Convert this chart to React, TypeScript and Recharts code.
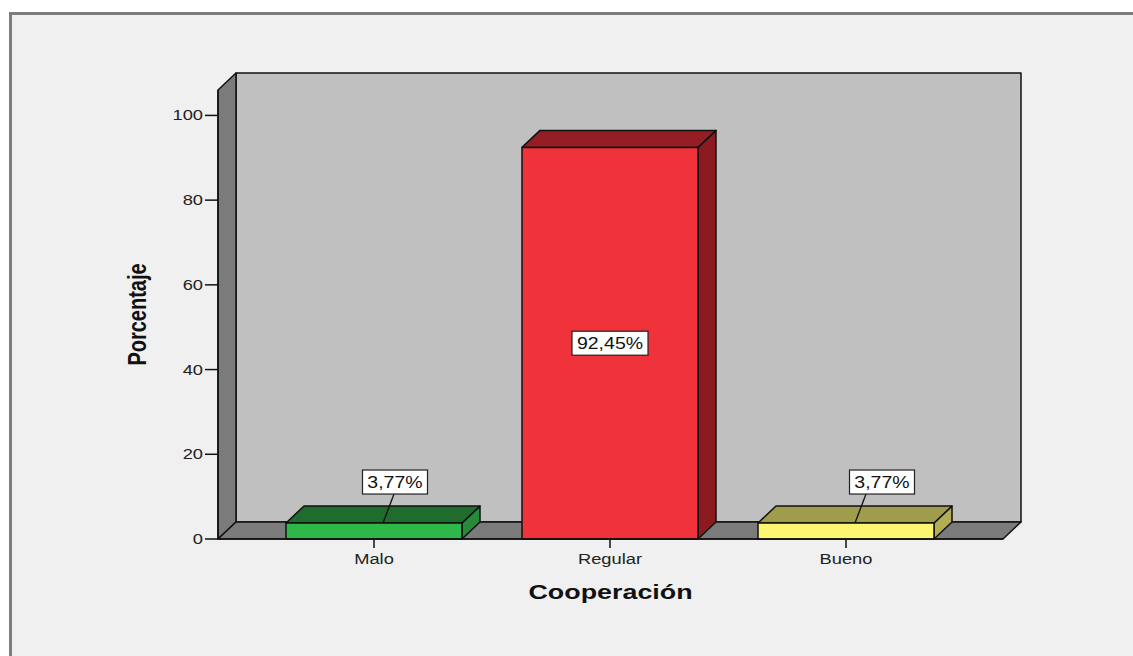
import React from 'react';
import { BarChart, Bar, XAxis, YAxis, LabelList, usePlotArea } from 'recharts';

const categories = ['Malo', 'Regular', 'Bueno'];
const percentages = [3.77, 92.45, 3.77];
const yTicks = [0, 20, 40, 60, 80, 100];

const data = categories.map((name, i) => ({ name, pct: percentages[i] }));

// face colours for each bar: front, top, right side
const barColors = [
  { front: '#2eb84a', top: '#1f6c2e', side: '#27893a' },
  { front: '#f0323a', top: '#951e24', side: '#8c1b21' },
  { front: '#fbf570', top: '#9f9c4b', side: '#b2ae56' },
];

const FONT = '"Liberation Sans", Arial, sans-serif';
const SX = 1.22; // horizontal text stretch
const DX = 18; // depth offset of the 3D box
const DY = 17;
const labelNudge = [21, 0, 36];

const fmt = (v: number) => v.toFixed(2).replace('.', ',') + '%';

// back wall, left wall and floor behind the bars
const Walls = () => {
  const area = usePlotArea();
  if (!area) return null;
  const { x, y, width, height } = area;
  const b = y + height;
  const r = x + width;
  return (
    <g stroke="#111" strokeWidth={1.5} strokeLinejoin="round">
      <rect x={x + DX} y={y - DY} width={width} height={height} fill="#c0c0c0" />
      <polygon
        points={`${x},${y} ${x + DX},${y - DY} ${x + DX},${b - DY} ${x},${b}`}
        fill="#7b7b7b"
      />
      <polygon
        points={`${x},${b} ${x + DX},${b - DY} ${r + DX},${b - DY} ${r},${b}`}
        fill="#7b7b7b"
      />
    </g>
  );
};

const Box3D = (props: any) => {
  const { x, y, width: w, height: h, index } = props;
  const c = barColors[index];
  return (
    <g stroke="#111" strokeWidth={1.5} strokeLinejoin="round">
      <polygon
        points={`${x + w},${y} ${x + w + DX},${y - DY} ${x + w + DX},${y + h - DY} ${x + w},${y + h}`}
        fill={c.side}
      />
      <polygon
        points={`${x},${y} ${x + DX},${y - DY} ${x + w + DX},${y - DY} ${x + w},${y}`}
        fill={c.top}
      />
      <rect x={x} y={y} width={w} height={h} fill={c.front} />
    </g>
  );
};

const ValueLabel = (props: any) => {
  const vb = props.viewBox ?? props;
  const { x, y, width: w, height: h } = vb;
  const { value, index } = props;
  const text = fmt(value);
  const bw = text.length * 11 + 10;
  const bh = 24;
  const fc = x + w / 2;
  let cx: number;
  let top: number;
  let leader = null;
  if (h > 60) {
    cx = fc;
    top = y + h / 2 - bh / 2;
  } else {
    cx = fc + labelNudge[index];
    top = y - 53;
    leader = (
      <line x1={fc + 20} y1={top + bh} x2={fc + 9} y2={y} stroke="#111" strokeWidth={1.3} />
    );
  }
  return (
    <g>
      {leader}
      <rect x={cx - bw / 2} y={top} width={bw} height={bh} fill="#fff" stroke="#222" strokeWidth={1.2} />
      <text
        transform={`translate(${cx},${top + bh / 2 + 6}) scale(${SX},1)`}
        textAnchor="middle"
        fontFamily={FONT}
        fontSize={16}
        fill="#111"
      >
        {text}
      </text>
    </g>
  );
};

const YTick = (props: any) => {
  const { x, y, payload } = props;
  return (
    <text
      transform={`translate(${x},${y + 5}) scale(${SX},1)`}
      textAnchor="end"
      fontFamily={FONT}
      fontSize={15}
      fill="#222"
    >
      {payload.value}
    </text>
  );
};

const XTick = (props: any) => {
  const { x, y, payload } = props;
  return (
    <text
      transform={`translate(${x},${y + 11}) scale(${SX},1)`}
      textAnchor="middle"
      fontFamily={FONT}
      fontSize={15}
      fill="#222"
    >
      {payload.value}
    </text>
  );
};

const XTitle = (props: any) => {
  const { x, width } = props.viewBox;
  return (
    <text
      transform={`translate(${x + width / 2},599) scale(1.28,1)`}
      textAnchor="middle"
      fontFamily={FONT}
      fontWeight="bold"
      fontSize={21}
      fill="#111"
    >
      Cooperación
    </text>
  );
};

const YTitle = (props: any) => {
  const { y, height } = props.viewBox;
  return (
    <text
      transform={`translate(146,${y + height / 2}) scale(1.25,1) rotate(-90)`}
      textAnchor="middle"
      fontFamily={FONT}
      fontWeight="bold"
      fontSize={20}
      fill="#111"
    >
      Porcentaje
    </text>
  );
};

export default function App() {
  return (
    <div
      style={{
        position: 'fixed',
        left: 0,
        top: 0,
        width: 1133,
        height: 656,
        background: '#fff',
        overflow: 'hidden',
      }}
    >
      <div
        style={{
          position: 'absolute',
          left: 9,
          top: 12,
          width: 1200,
          height: 700,
          background: '#f0f0f0',
          borderTop: '3px solid #7d7d7d',
          borderLeft: '3px solid #7d7d7d',
        }}
      />
      <div style={{ position: 'absolute', left: 0, top: 0 }}>
        <BarChart
          width={1133}
          height={656}
          data={data}
          margin={{ top: 90, right: 130, bottom: 0, left: 0 }}
        >
          <Walls />
          <XAxis
            dataKey="name"
            height={117}
            padding={{ left: 38, right: 39 }}
            axisLine={{ stroke: '#111', strokeWidth: 1.5 }}
            tickLine={{ stroke: '#111', strokeWidth: 1.5 }}
            tickSize={9}
            tickMargin={5}
            tick={<XTick />}
            label={{ content: <XTitle /> }}
          />
          <YAxis
            width={218}
            domain={[0, 106]}
            ticks={yTicks}
            axisLine={{ stroke: '#111', strokeWidth: 1.5 }}
            tickLine={{ stroke: '#111', strokeWidth: 1.5 }}
            tickSize={13}
            tickMargin={2}
            tick={<YTick />}
            label={{ content: <YTitle /> }}
          />
          <Bar dataKey="pct" barSize={176} shape={<Box3D />} isAnimationActive={false}>
            <LabelList dataKey="pct" content={<ValueLabel />} />
          </Bar>
        </BarChart>
      </div>
    </div>
  );
}
